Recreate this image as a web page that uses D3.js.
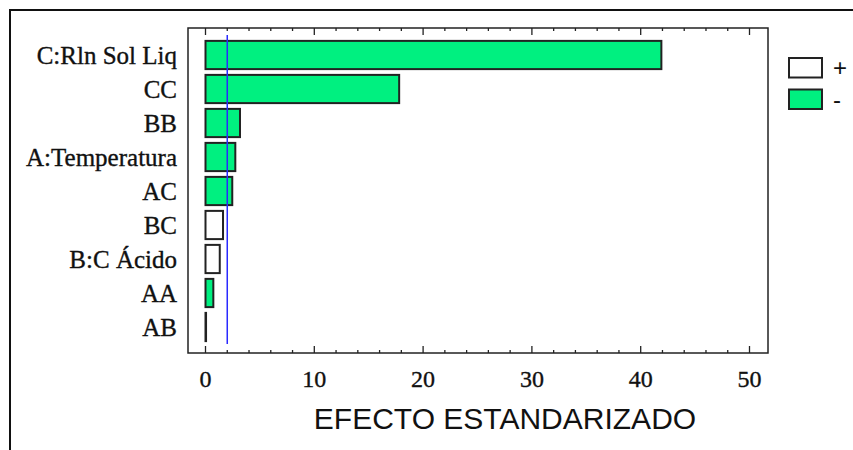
<!DOCTYPE html>
<html>
<head>
<meta charset="utf-8">
<script src="https://cdn.jsdelivr.net/npm/d3@7"></script>
<style>
  body { margin: 0; background: #fff; }
  svg { display: block; }
  .y-label, .tick-label { font-family: "Liberation Serif", "Times New Roman", serif; fill: #111; stroke: #111; stroke-width: 0.35px; }
  .y-label { font-size: 25px; }
  .tick-label { font-size: 24px; }
  .axis-title { font-family: "Liberation Sans", Arial, sans-serif; font-size: 30px; fill: #111; }
  .legend-label { font-family: "Liberation Sans", Arial, sans-serif; font-size: 24px; fill: #111; }
</style>
</head>
<body>
<div id="chart-area"></div>
<script>
// data, biggest effect first
const effects = ["C:Rln Sol Liq", "CC", "BB", "A:Temperatura", "AC", "BC", "B:C Ácido", "AA", "AB"];
const values = [41.9, 17.8, 3.17, 2.74, 2.46, 1.61, 1.31, 0.72, 0.05];
const signs = ["-", "-", "-", "-", "-", "+", "+", "-", "-"];
const majorTicks = [0, 10, 20, 30, 40, 50];
const legendItems = ["+", "-"];
const criticalValue = 2.0;

const drawChart = () => {
  const chartSize = { width: 853, height: 450 };
  const plot = { left: 188, right: 768, top: 28, bottom: 353 };
  const green = "#00f080";

  const svg = d3.select("#chart-area")
    .append("svg")
    .attr("width", chartSize.width)
    .attr("height", chartSize.height);

  // outer frame, runs off the right and bottom of the picture
  svg.append("rect")
    .attr("x", 10).attr("y", 10)
    .attr("width", 900).attr("height", 500)
    .attr("fill", "white")
    .attr("stroke", "#111")
    .attr("stroke-width", 2);

  const x = d3.scaleLinear().domain([0, 50]).range([205.5, 749.5]);
  const y = d3.scaleBand()
    .domain(effects)
    .range([38, 344])
    .paddingInner(0.17)
    .paddingOuter(0.085);

  const rows = effects.map((name, i) => ({ name, value: values[i], sign: signs[i] }));

  // plot box
  svg.append("rect")
    .attr("x", plot.left).attr("y", plot.top)
    .attr("width", plot.right - plot.left)
    .attr("height", plot.bottom - plot.top)
    .attr("fill", "none")
    .attr("stroke", "#222")
    .attr("stroke-width", 1.5);

  // ticks on bottom and top, pointing inwards
  const minorTicks = d3.range(0, 51, 2).filter(t => t % 10 !== 0);
  const g = svg.append("g").attr("stroke", "#222").attr("stroke-width", 1.3);
  const addTicks = (list, len) => {
    g.selectAll(null).data(list).enter().append("line")
      .attr("x1", d => x(d)).attr("x2", d => x(d))
      .attr("y1", plot.bottom).attr("y2", plot.bottom - len);
    g.selectAll(null).data(list).enter().append("line")
      .attr("x1", d => x(d)).attr("x2", d => x(d))
      .attr("y1", plot.top).attr("y2", plot.top + len);
  };
  addTicks(majorTicks, 7);
  addTicks(minorTicks, 3);

  svg.selectAll(".tick-label")
    .data(majorTicks)
    .enter().append("text")
    .attr("class", "tick-label")
    .attr("x", d => x(d))
    .attr("y", 387)
    .attr("text-anchor", "middle")
    .text(d => d);

  svg.append("text")
    .attr("class", "axis-title")
    .attr("x", 505)
    .attr("y", 429)
    .attr("text-anchor", "middle")
    .text("EFECTO ESTANDARIZADO");

  // bars
  svg.selectAll(".bar")
    .data(rows)
    .enter().append("rect")
    .attr("class", "bar")
    .attr("x", x(0))
    .attr("y", d => y(d.name))
    .attr("width", d => x(d.value) - x(0))
    .attr("height", y.bandwidth())
    .attr("fill", d => d.sign === "+" ? "white" : green)
    .attr("stroke", "#222")
    .attr("stroke-width", 2);

  svg.selectAll(".y-label")
    .data(rows)
    .enter().append("text")
    .attr("class", "y-label")
    .attr("x", 177)
    .attr("y", d => y(d.name) + y.bandwidth() / 2)
    .attr("dy", "0.35em")
    .attr("text-anchor", "end")
    .text(d => d.name);

  // critical value line
  svg.append("line")
    .attr("x1", x(criticalValue)).attr("x2", x(criticalValue))
    .attr("y1", 35).attr("y2", 344)
    .attr("stroke", "#2a2aff")
    .attr("stroke-width", 1.5);

  // legend
  const legend = svg.selectAll(".legend")
    .data(legendItems)
    .enter().append("g")
    .attr("class", "legend")
    .attr("transform", (d, i) => `translate(789, ${58 + i * 31.5})`);

  legend.append("rect")
    .attr("width", 33).attr("height", 19.5)
    .attr("fill", d => d === "+" ? "white" : green)
    .attr("stroke", "#222")
    .attr("stroke-width", 2);

  legend.append("text")
    .attr("class", "legend-label")
    .attr("x", 44)
    .attr("y", 10)
    .attr("dy", "0.35em")
    .text(d => d);
};

window.onload = drawChart;
</script>
</body>
</html>
